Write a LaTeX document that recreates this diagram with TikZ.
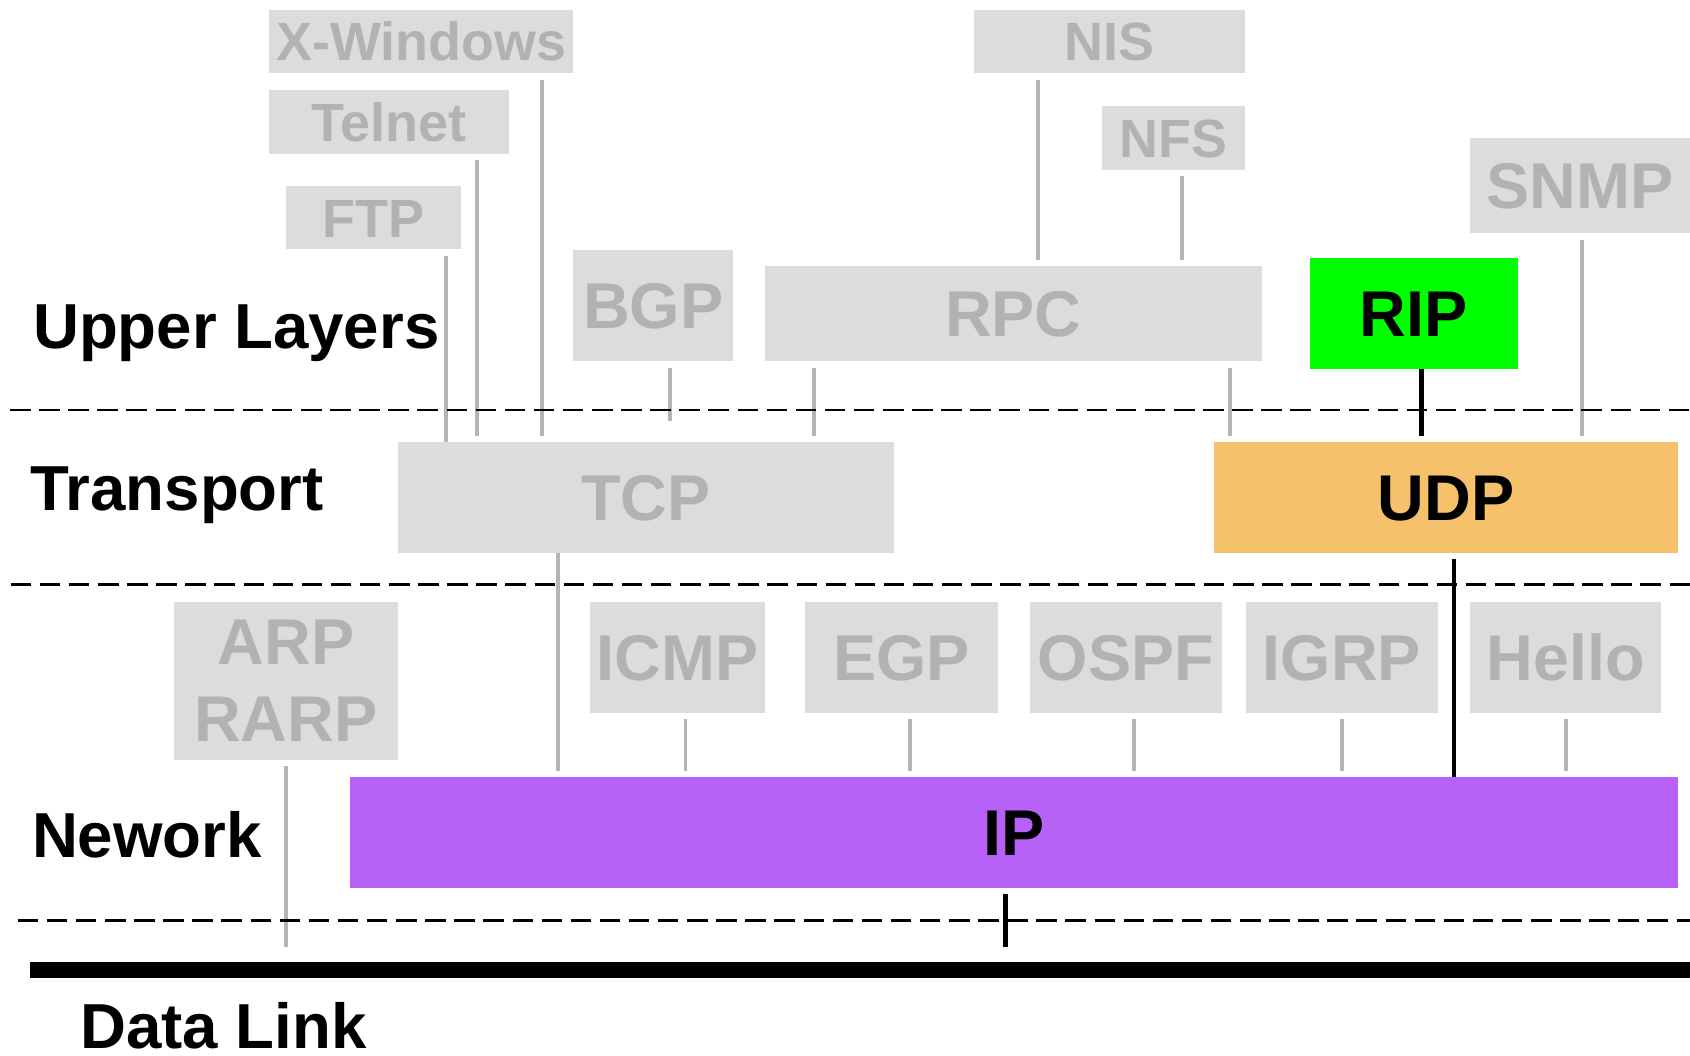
\documentclass[tikz,border=0pt]{standalone}
\usepackage{fontspec}
\setmainfont{Liberation Sans}

\definecolor{boxgray}{HTML}{DCDCDC}
\definecolor{txtgray}{HTML}{B2B2B2}
\definecolor{linegray}{HTML}{B4B4B4}
\definecolor{ripgreen}{HTML}{00FF00}
\definecolor{udporange}{HTML}{F5C16B}
\definecolor{ippurple}{HTML}{B761F6}

\begin{document}
\begin{tikzpicture}[x=1pt,y=-1pt,
  proto/.style={inner sep=0pt, outer sep=0pt, anchor=center},
  gbox/.style={proto, fill=boxgray, text=txtgray},
  bigcap/.style={font=\fontsize{60}{71.2}\selectfont\bfseries, text height=43pt, text depth=0pt},
  smallcap/.style={font=\fontsize{50}{60}\selectfont\bfseries, text height=35.8pt, text depth=0pt},
  twoline/.style={font=\fontsize{60}{71.2}\selectfont\bfseries, align=center},
  layerlabel/.style={inner sep=0pt, anchor=base west, font=\fontsize{59}{70}\selectfont\bfseries},
  gline/.style={draw=linegray, line width=3.7pt},
  bline/.style={draw=black, line width=4.5pt},
  layerline/.style={draw=black, line width=2.6pt, dash pattern=on 19pt off 8pt},
  linkline/.style={draw=black, line width=14.8pt}
]
\useasboundingbox (0,0) rectangle (1568,979);

% ---- application protocols ----
\node[gbox, smallcap, minimum width=282pt, minimum height=58.7pt] (xwin)   at (391,38.65)    {X-Windows};
\node[gbox, smallcap, minimum width=222pt, minimum height=59pt]   (telnet) at (361,113)      {Telnet};
\node[gbox, smallcap, minimum width=163pt, minimum height=58.7pt] (ftp)    at (346.5,202)    {FTP};
\node[gbox, bigcap,   minimum width=148pt, minimum height=103pt]  (bgp)    at (606,283.5)    {BGP};
\node[gbox, bigcap,   minimum width=460.5pt, minimum height=88.2pt] (rpc)  at (940.25,290.9) {RPC};
\node[gbox, smallcap, minimum width=252pt, minimum height=58.7pt] (nis)    at (1029.5,38.65) {NIS};
\node[gbox, smallcap, minimum width=133pt, minimum height=59pt]   (nfs)    at (1089,127.85)  {NFS};
\node[gbox, bigcap,   minimum width=204pt, minimum height=88.8pt] (snmp)   at (1466,172.1)   {SNMP};
\node[proto, bigcap, fill=ripgreen, minimum width=192.5pt, minimum height=103.7pt] (rip) at (1311.75,290.85) {RIP};

% ---- transport ----
\node[gbox, bigcap, minimum width=459.5pt, minimum height=103pt] (tcp) at (599.25,461.8) {TCP};
\node[proto, bigcap, fill=udporange, minimum width=430pt, minimum height=103pt] (udp) at (1341.5,461.8) {UDP};

% ---- network ----
\node[gbox, twoline, minimum width=207.5pt, minimum height=147.2pt] (arp) at (265.25,631.8) {ARP\\RARP};
\node[gbox, bigcap, minimum width=162.5pt, minimum height=103pt] (icmp)  at (628.75,609.7) {ICMP};
\node[gbox, bigcap, minimum width=179pt,   minimum height=103pt] (egp)   at (836.5,609.7)  {EGP};
\node[gbox, bigcap, minimum width=178pt,   minimum height=103pt] (ospf)  at (1044.5,609.7) {OSPF};
\node[gbox, bigcap, minimum width=178pt,   minimum height=103pt] (igrp)  at (1245,609.7)   {IGRP};
\node[gbox, bigcap, minimum width=177.5pt, minimum height=103pt] (hello) at (1452.75,609.7) {Hello};
\node[proto, bigcap, fill=ippurple, minimum width=1232pt, minimum height=103.3pt] (ip) at (940.5,772.45) {IP};

% ---- layer boundaries and the data link ----
\coordinate (sep1w) at (9.3,380.4);   \coordinate (sep1e) at (1568,380.4);
\coordinate (sep2w) at (10,542.5);    \coordinate (sep2e) at (1568,542.5);
\coordinate (sep3w) at (16.5,854.1);  \coordinate (sep3e) at (1568,854.1);
\coordinate (dlw) at (28,899.7);      \coordinate (dle) at (1568,899.7);

% ---- upper layers down to transport ----
\draw[gline] ([xshift=67pt,yshift=-6.2pt]ftp.south) -- ([xshift=67pt]ftp.south |- tcp.north);
\draw[gline] ([xshift=82pt,yshift=-5.8pt]telnet.south) -- ([xshift=82pt,yshift=5.8pt]telnet.south |- tcp.north);
\draw[gline] ([xshift=111.5pt,yshift=-6.2pt]xwin.south) -- ([xshift=111.5pt,yshift=5.8pt]xwin.south |- tcp.north);
\draw[gline] ([xshift=15.5pt,yshift=-6pt]bgp.south) -- ([xshift=15.5pt,yshift=20pt]bgp.south |- tcp.north);
\draw[gline] ([xshift=-185.25pt,yshift=-6pt]rpc.south) -- ([xshift=-185.25pt,yshift=5.8pt]rpc.south |- tcp.north);
\draw[gline] ([xshift=200.75pt,yshift=-6pt]rpc.south) -- ([xshift=200.75pt,yshift=5.8pt]rpc.south |- udp.north);
\draw[gline] ([xshift=-66.5pt,yshift=-6.2pt]nis.south) -- ([xshift=-66.5pt,yshift=5.6pt]nis.south |- rpc.north);
\draw[gline] ([xshift=7.5pt,yshift=-5.9pt]nfs.south) -- ([xshift=7.5pt,yshift=5.6pt]nfs.south |- rpc.north);
\draw[gline] ([xshift=1.5pt,yshift=-6.2pt]snmp.south) -- ([xshift=1.5pt,yshift=5.8pt]snmp.south |- udp.north);
\draw[bline] ([xshift=7.25pt]rip.south) -- ([xshift=7.25pt,yshift=5.8pt]rip.south |- udp.north);

% ---- transport and routing protocols down to IP ----
\draw[gline] ([xshift=-81.75pt]tcp.south) -- ([xshift=-81.75pt,yshift=5.3pt]tcp.south |- ip.north);
\draw[bline] ([xshift=7.5pt,yshift=-5.6pt]udp.south) -- ([xshift=7.5pt]udp.south |- ip.north);
\draw[gline] ([xshift=7.25pt,yshift=-5.6pt]icmp.south) -- ([xshift=7.25pt,yshift=5.3pt]icmp.south |- ip.north);
\draw[gline] ([xshift=7.5pt,yshift=-5.6pt]egp.south) -- ([xshift=7.5pt,yshift=5.3pt]egp.south |- ip.north);
\draw[gline] ([xshift=7.5pt,yshift=-5.6pt]ospf.south) -- ([xshift=7.5pt,yshift=5.3pt]ospf.south |- ip.north);
\draw[gline] ([yshift=-5.6pt]igrp.south) -- ([yshift=5.3pt]igrp.south |- ip.north);
\draw[gline] ([yshift=-5.6pt]hello.south) -- ([yshift=5.3pt]hello.south |- ip.north);

% ---- network down to the data link ----
\draw[gline] ([yshift=-5.6pt]arp.south) -- ([yshift=21.3pt]arp.south |- dlw);
\draw[bline] ([xshift=-7.5pt,yshift=-5.6pt]ip.south) -- ([xshift=-7.5pt,yshift=21.3pt]ip.south |- dlw);

\draw[layerline] (sep1w) -- (sep1e);
\draw[layerline] (sep2w) -- (sep2e);
\draw[layerline] (sep3w) -- (sep3e);
\draw[linkline] (dlw) -- (dle);

% ---- layer names ----
\node[layerlabel] (lupper) at (30.5,323) {Upper Layers};
\node[layerlabel] (ltrans) at (28,474)   {Transport};
\node[layerlabel] (lnet)   at (29.5,796) {Nework};
\node[layerlabel] (llink)  at (74.5,973) {Data Link};
\end{tikzpicture}
\end{document}
